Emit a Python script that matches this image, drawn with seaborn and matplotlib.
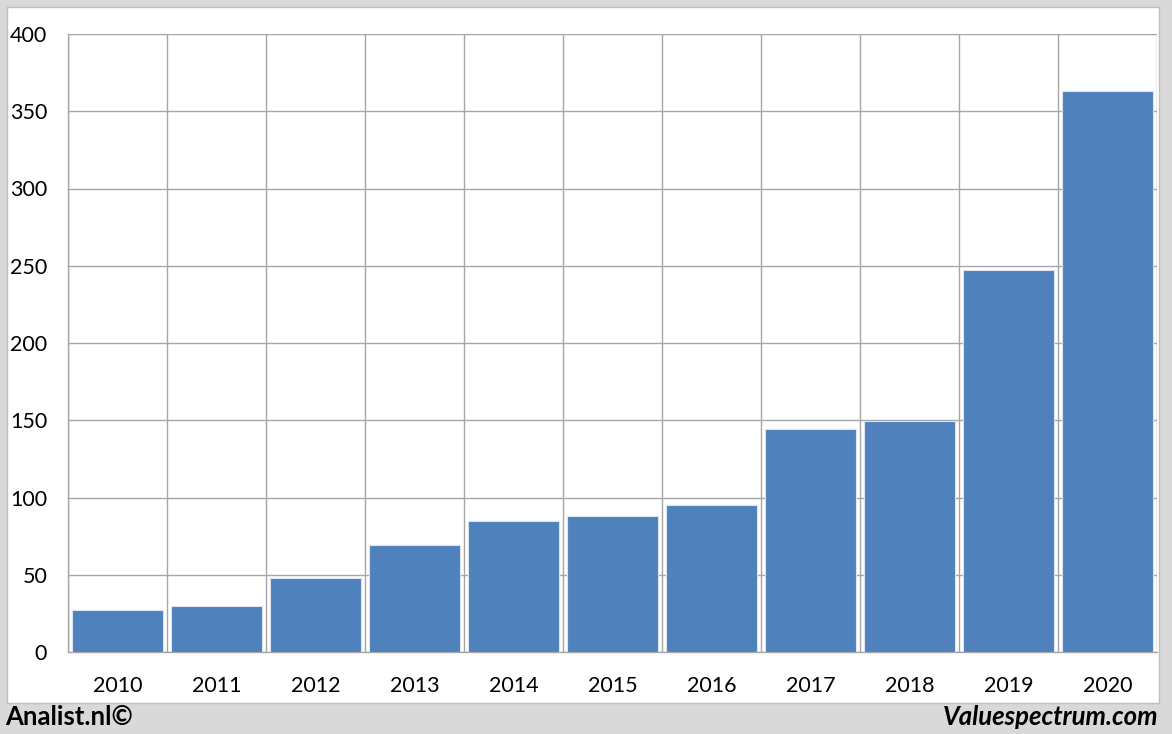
import numpy as np
import pandas as pd
import matplotlib
matplotlib.use("Agg")
import matplotlib.pyplot as plt
import seaborn as sns
from matplotlib.patches import Rectangle

years = ["2010", "2011", "2012", "2013", "2014", "2015", "2016", "2017", "2018", "2019", "2020"]
values = [27.2, 29.8, 47.9, 69.3, 84.8, 88.0, 95.1, 144.3, 149.5, 247.2, 363.3]
y_ticks = [0, 50, 100, 150, 200, 250, 300, 350, 400]

sns.set_style("white")
plt.rcParams['font.family'] = ['Lato', 'DejaVu Sans']
plt.rcParams['text.color'] = 'black'

df = pd.DataFrame({'year': years, 'value': values})

fig = plt.figure(figsize=(11.72, 7.34), dpi=100, facecolor="#d9d9d9")
fig.patches.append(Rectangle((7 / 1172, 31 / 734), 1152 / 1172, 696 / 734,
                             transform=fig.transFigure, facecolor="white",
                             edgecolor="#bfbfbf", linewidth=1, zorder=-5))

ax = fig.add_axes([68 / 1172, 82 / 734, 1089 / 1172, 618 / 734])
ax.set_facecolor("none")
sns.barplot(data=df, x='year', y='value', color="#4F81BD", width=0.92,
            edgecolor="#dbe4f0", linewidth=0.8, saturation=1, ax=ax, zorder=3)

ax.set_xlim(-0.5, len(years) - 0.5)
ax.set_ylim(0, 400)
ax.set_yticks(y_ticks)
ax.set_xlabel("")
ax.set_ylabel("")

# grid lines: horizontal at y ticks, vertical at category boundaries
for y in y_ticks:
    ax.axhline(y, color="#a6a6a6", linewidth=1, zorder=1)
for b in np.arange(-0.5, len(years), 1.0):
    ax.axvline(b, color="#a6a6a6", linewidth=1, zorder=1)

ax.set_xticks(np.arange(-0.5, len(years), 1.0), minor=True)
ax.tick_params(axis='x', which='major', length=0, pad=17, labelsize=15.5, labelcolor="black")
ax.tick_params(axis='x', which='minor', length=6, width=1, color="#a6a6a6")
ax.tick_params(axis='y', length=6, width=1, color="#a6a6a6", pad=9, labelsize=15.5,
               labelcolor="black")

for s in ['top', 'right']:
    ax.spines[s].set_visible(False)
for s in ['left', 'bottom']:
    ax.spines[s].set_color("#a6a6a6")
    ax.spines[s].set_linewidth(1)

fig.text(5 / 1172, 1 - 717 / 734, "Analist.nl©", fontsize=18.5, fontweight='bold',
         ha='left', va='center', color='black')
fig.text(1158 / 1172, 1 - 717 / 734, "Valuespectrum.com", fontsize=18.5,
         fontweight='bold', fontstyle='italic', ha='right', va='center', color='black')

fig.savefig("out.png", dpi=100, facecolor=fig.get_facecolor())
